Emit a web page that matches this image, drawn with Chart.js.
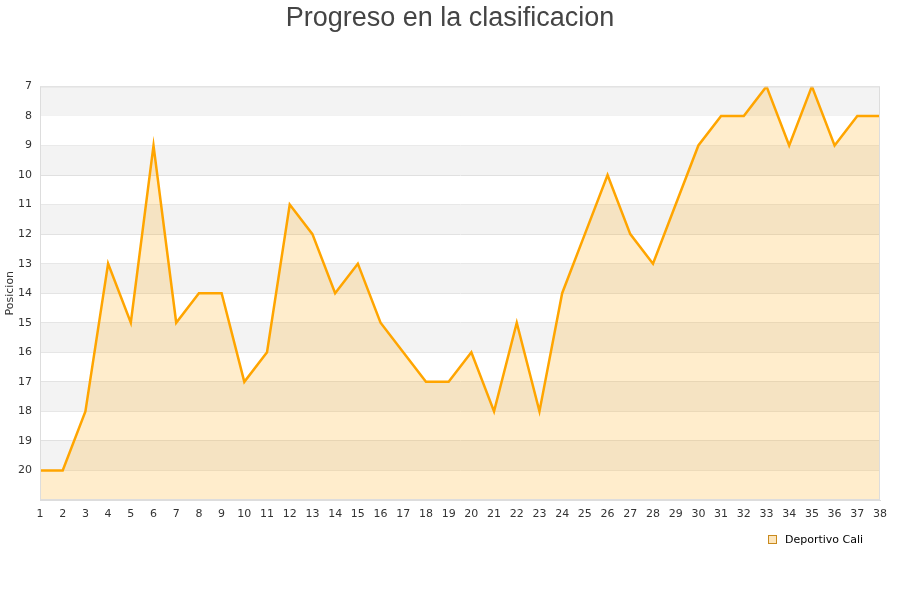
<!DOCTYPE html>
<html>
<head>
<meta charset="utf-8">
<script src="https://cdn.jsdelivr.net/npm/chart.js@4/dist/chart.umd.min.js"></script>
<style>
  html, body { margin: 0; padding: 0; background: #fff; }
  #wrap { width: 900px; height: 600px; }
</style>
</head>
<body>
<div id="wrap"><canvas id="grafico"></canvas></div>
<script>
const jornadas = ["1","2","3","4","5","6","7","8","9","10","11","12","13","14","15","16","17","18","19",
  "20","21","22","23","24","25","26","27","28","29","30","31","32","33","34","35","36","37","38"];
const posiciones = [20, 20, 18, 13, 15, 9, 15, 14, 14, 17, 16, 11, 12, 14, 13, 15, 16, 17, 17,
  16, 18, 15, 18, 14, 12, 10, 12, 13, 11, 9, 8, 8, 7, 9, 7, 9, 8, 8];
const equipo = "Deportivo Cali";
const posMin = 7;
const posMax = 21;

// franjas grises alternas detras de la serie + borde + leyenda abajo a la derecha
const bandas = {
  id: "bandas",
  beforeDatasetsDraw(chart) {
    const { ctx, chartArea, scales } = chart;
    const y = scales.y;
    ctx.save();
    for (let v = posMin; v < posMax; v++) {
      if ((v - posMin) % 2 === 0) {
        const y1 = y.getPixelForValue(v);
        const y2 = y.getPixelForValue(v + 1);
        ctx.fillStyle = "#f3f3f3";
        ctx.fillRect(chartArea.left, y1, chartArea.right - chartArea.left, y2 - y1);
      }
    }
    ctx.restore();
  },
  afterDatasetsDraw(chart) {
    const { ctx, chartArea } = chart;
    ctx.save();
    ctx.strokeStyle = "#dddddd";
    ctx.lineWidth = 1;
    ctx.strokeRect(chartArea.left + 0.5, chartArea.top + 0.5,
      chartArea.right - chartArea.left - 1, chartArea.bottom - chartArea.top - 1);
    ctx.restore();
  },
  afterDraw(chart) {
    const { ctx } = chart;
    const ds = chart.data.datasets[0];
    ctx.save();
    ctx.fillStyle = "#fde6bd";
    ctx.strokeStyle = "#c98a1e";
    ctx.lineWidth = 1;
    ctx.fillRect(768.5, 535.5, 8, 8);
    ctx.strokeRect(768.5, 535.5, 8, 8);
    ctx.fillStyle = "#000";
    ctx.font = "11px 'DejaVu Sans'";
    ctx.textBaseline = "middle";
    ctx.textAlign = "left";
    ctx.fillText(ds.label, 785, 540);
    ctx.restore();
  }
};

const ctx = document.getElementById("grafico").getContext("2d");
const chart = new Chart(ctx, {
  type: "line",
  data: {
    labels: jornadas,
    datasets: [{
      label: equipo,
      data: posiciones,
      borderColor: "#ffa500",
      backgroundColor: "rgba(255,165,0,0.2)",
      borderWidth: 2.5,
      pointRadius: 0,
      tension: 0,
      fill: "start",
    }]
  },
  options: {
    responsive: true,
    maintainAspectRatio: false,
    animation: false,
    layout: { padding: { left: 4, right: 4, top: 0, bottom: 74 } },
    plugins: {
      title: {
        display: true,
        text: "Progreso en la clasificacion",
        color: "#444444",
        font: { family: "Liberation Sans", size: 27, weight: "normal" },
        padding: { top: 2, bottom: 52 }
      },
      legend: { display: false },
      tooltip: { enabled: false }
    },
    scales: {
      x: {
        offset: false,
        afterFit(scale) {
          scale.height = 26;
          scale.paddingRight = 20;
        },
        grid: { display: false, drawTicks: false },
        border: { color: "#dddddd" },
        ticks: {
          color: "#333",
          font: { family: "DejaVu Sans", size: 11 },
          maxRotation: 0,
          autoSkip: false,
          padding: 8
        }
      },
      y: {
        reverse: true,
        min: posMin,
        max: posMax,
        afterFit(scale) { scale.width = 36; },
        title: {
          display: true,
          text: "Posicion",
          color: "#333",
          font: { family: "DejaVu Sans", size: 11 },
          padding: 0
        },
        grid: { color: "#e0e0e0", drawTicks: false },
        border: { color: "#dddddd" },
        ticks: {
          stepSize: 1,
          color: "#333",
          font: { family: "DejaVu Sans", size: 11 },
          padding: 8,
          callback: (v) => (v === posMax ? "" : v)
        }
      }
    }
  },
  plugins: [bandas]
});
</script>
</body>
</html>
